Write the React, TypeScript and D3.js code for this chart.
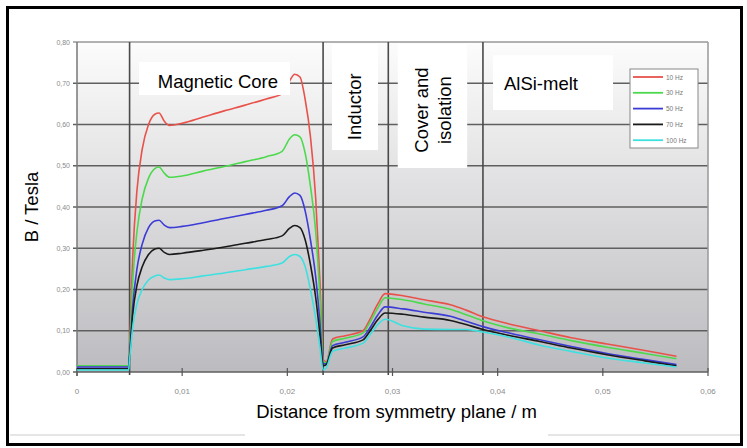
import React, { useEffect, useRef } from 'react';
import * as d3 from 'd3';

// distance from symmetry plane (m)
const xs = [0, 0.0049, 0.005, 0.0053, 0.0057, 0.0062, 0.0068, 0.0074, 0.0078, 0.0083, 0.0088, 0.01, 0.012, 0.014, 0.016, 0.018, 0.0195, 0.0202, 0.0207, 0.0212, 0.0217, 0.0222, 0.0227, 0.0231, 0.0234, 0.0237, 0.0243, 0.0255, 0.0272, 0.0278, 0.0286, 0.0293, 0.031, 0.033, 0.0355, 0.037, 0.0386, 0.041, 0.044, 0.047, 0.0504, 0.054, 0.057];

const hz10 = [0.015, 0.015, 0.06, 0.28, 0.44, 0.54, 0.6, 0.625, 0.628, 0.608, 0.598, 0.603, 0.618, 0.633, 0.647, 0.662, 0.675, 0.705, 0.722, 0.715, 0.66, 0.57, 0.42, 0.22, 0.03, 0.025, 0.08, 0.088, 0.1, 0.125, 0.165, 0.19, 0.185, 0.175, 0.163, 0.15, 0.134, 0.117, 0.1, 0.083, 0.068, 0.052, 0.038];
const hz30 = [0.015, 0.015, 0.05, 0.22, 0.34, 0.42, 0.47, 0.493, 0.497, 0.482, 0.472, 0.475, 0.487, 0.498, 0.51, 0.522, 0.535, 0.565, 0.575, 0.57, 0.53, 0.45, 0.34, 0.18, 0.025, 0.022, 0.074, 0.082, 0.095, 0.118, 0.155, 0.18, 0.175, 0.165, 0.152, 0.139, 0.124, 0.107, 0.092, 0.076, 0.06, 0.045, 0.032];
const hz50 = [0.012, 0.012, 0.04, 0.16, 0.25, 0.31, 0.35, 0.366, 0.368, 0.356, 0.35, 0.353, 0.362, 0.372, 0.382, 0.392, 0.403, 0.425, 0.434, 0.428, 0.39, 0.32, 0.23, 0.12, 0.02, 0.02, 0.064, 0.072, 0.085, 0.105, 0.138, 0.158, 0.153, 0.145, 0.135, 0.123, 0.11, 0.095, 0.078, 0.062, 0.045, 0.03, 0.018];
const hz70 = [0.008, 0.008, 0.035, 0.14, 0.21, 0.255, 0.285, 0.298, 0.3, 0.29, 0.285, 0.288, 0.295, 0.303, 0.312, 0.321, 0.33, 0.348, 0.355, 0.35, 0.32, 0.26, 0.18, 0.09, 0.015, 0.018, 0.058, 0.066, 0.078, 0.097, 0.127, 0.143, 0.14, 0.133, 0.125, 0.115, 0.103, 0.089, 0.074, 0.058, 0.042, 0.027, 0.015];
const hz100 = [0.005, 0.005, 0.03, 0.11, 0.165, 0.2, 0.223, 0.233, 0.235, 0.228, 0.224, 0.226, 0.233, 0.24, 0.248, 0.256, 0.264, 0.28, 0.285, 0.28, 0.255, 0.2, 0.13, 0.06, 0.005, 0.01, 0.05, 0.058, 0.07, 0.088, 0.115, 0.128, 0.112, 0.104, 0.103, 0.103, 0.097, 0.085, 0.065, 0.05, 0.034, 0.022, 0.012];

const seriesNames = ['10 Hz', '30 Hz', '50 Hz', '70 Hz', '100 Hz'];
const seriesColors = ['#e8524a', '#4cd94c', '#3b3bd6', '#1a1a1a', '#3ee0e0'];
const yTicks = [0, 0.1, 0.2, 0.3, 0.4, 0.5, 0.6, 0.7, 0.8];
const xTicks = [0, 0.01, 0.02, 0.03, 0.04, 0.05, 0.06];
const regionBounds = [0.005, 0.0234, 0.0296, 0.0386];

export default function App() {
  const svgRef = useRef<SVGSVGElement>(null);

  useEffect(() => {
    const W = 747;
    const H = 448;
    const margin = { top: 42, right: 39, bottom: 76, left: 77 };
    const svg = d3.select(svgRef.current).attr('width', W).attr('height', H);
    svg.selectAll('*').remove();

    const x = d3.scaleLinear().domain([0, 0.06]).range([margin.left, W - margin.right]);
    const y = d3.scaleLinear().domain([0, 0.8]).range([H - margin.bottom, margin.top]);
    const fmt = (v: number) => (v === 0 ? '0' : d3.format('.2f')(v).replace('.', ','));
    const font = 'Liberation Sans, Arial, sans-serif';

    svg.append('rect').attr('width', W).attr('height', H).attr('fill', '#fff');

    const grad = svg.append('defs').append('linearGradient')
      .attr('id', 'bg').attr('x1', 0).attr('x2', 0).attr('y1', 0).attr('y2', 1);
    grad.append('stop').attr('offset', '0%').attr('stop-color', '#fcfcfc');
    grad.append('stop').attr('offset', '100%').attr('stop-color', '#bcbcc0');

    svg.append('rect')
      .attr('x', x(0)).attr('y', y(0.8))
      .attr('width', x(0.06) - x(0)).attr('height', y(0) - y(0.8))
      .attr('fill', 'url(#bg)');

    // horizontal grid
    svg.append('g').selectAll('line').data(yTicks).join('line')
      .attr('x1', x(0) - 4).attr('x2', x(0.06))
      .attr('y1', (d) => y(d)).attr('y2', (d) => y(d))
      .attr('stroke', (d) => (d === 0.8 ? '#999' : '#5f5f5f'))
      .attr('stroke-width', 1.6);

    // plot frame sides
    svg.append('line').attr('x1', x(0)).attr('x2', x(0)).attr('y1', y(0.8)).attr('y2', y(0) + 4)
      .attr('stroke', '#777').attr('stroke-width', 1.5);
    svg.append('line').attr('x1', x(0.06)).attr('x2', x(0.06)).attr('y1', y(0.8)).attr('y2', y(0))
      .attr('stroke', '#999').attr('stroke-width', 1.5);

    // x tick marks
    svg.append('g').selectAll('line').data(xTicks).join('line')
      .attr('x1', (d) => x(d)).attr('x2', (d) => x(d))
      .attr('y1', y(0) - 4).attr('y2', y(0) + 4)
      .attr('stroke', '#555').attr('stroke-width', 1.2);

    // region boundaries
    svg.append('g').selectAll('line').data(regionBounds).join('line')
      .attr('x1', (d) => x(d)).attr('x2', (d) => x(d))
      .attr('y1', y(0.8)).attr('y2', y(0) + 3)
      .attr('stroke', '#4a4a4a').attr('stroke-width', 1.6);

    // tick labels
    svg.append('g').selectAll('text').data(yTicks).join('text')
      .attr('x', x(0) - 7).attr('y', (d) => y(d) + 2.5)
      .attr('text-anchor', 'end')
      .attr('font-family', font)
      .attr('font-size', 7).attr('fill', '#8a8a8a')
      .text((d) => d3.format('.2f')(d).replace('.', ','));

    svg.append('g').selectAll('text').data(xTicks).join('text')
      .attr('x', (d) => x(d)).attr('y', y(0) + 22)
      .attr('text-anchor', 'middle')
      .attr('font-family', font)
      .attr('font-size', 8).attr('fill', '#8a8a8a')
      .text((d) => fmt(d));

    // curves, 10 Hz first so 100 Hz ends on top
    const all = [hz10, hz30, hz50, hz70, hz100];
    const line = d3.line<number>()
      .x((_, i) => x(xs[i]))
      .y((d) => y(d))
      .curve(d3.curveMonotoneX);

    svg.append('g').selectAll('path').data(all).join('path')
      .attr('d', (d) => line(d))
      .attr('fill', 'none')
      .attr('stroke', (_, i) => seriesColors[i])
      .attr('stroke-width', 1.6);

    // region label boxes
    const box = (x0: number, x1: number, y0: number, y1: number) =>
      svg.append('rect')
        .attr('x', x(x0)).attr('y', y(y0))
        .attr('width', x(x1) - x(x0)).attr('height', y(y1) - y(y0))
        .attr('fill', '#fff');

    box(0.0059, 0.02025, 0.7515, 0.6715);
    svg.append('text').attr('x', x(0.0134)).attr('y', y(0.7) + 5)
      .attr('text-anchor', 'middle').attr('font-family', font).attr('font-size', 18.5)
      .text('Magnetic Core');

    box(0.02425, 0.02862, 0.795, 0.538);
    svg.append('text')
      .attr('transform', `translate(${x(0.02643) + 6},${y(0.643)}) rotate(-90)`)
      .attr('text-anchor', 'middle').attr('font-family', font).attr('font-size', 18.5)
      .text('Inductor');

    box(0.0305, 0.0371, 0.795, 0.4945);
    const cover = svg.append('text')
      .attr('transform', `translate(${x(0.0338)},${y(0.635)}) rotate(-90)`)
      .attr('text-anchor', 'middle').attr('font-family', font).attr('font-size', 18.5);
    cover.append('tspan').attr('x', 0).attr('dy', -4).text('Cover and');
    cover.append('tspan').attr('x', 0).attr('dy', 23).text('isolation');

    box(0.03956, 0.05097, 0.768, 0.635);
    svg.append('text').attr('x', x(0.0406)).attr('y', y(0.7) + 7)
      .attr('font-family', font).attr('font-size', 18.5)
      .text('AlSi-melt');

    // legend
    const lg = svg.append('g').attr('transform', 'translate(630,69)');
    lg.append('rect').attr('width', 68).attr('height', 79)
      .attr('fill', '#fff').attr('stroke', '#888').attr('stroke-width', 1);
    const items = lg.selectAll('g').data(seriesNames).join('g')
      .attr('transform', (_, i) => `translate(0,${8 + i * 15.8})`);
    items.append('line').attr('x1', 3).attr('x2', 33).attr('y1', 0).attr('y2', 0)
      .attr('stroke', (_, i) => seriesColors[i]).attr('stroke-width', 1.8);
    items.append('text').attr('x', 36).attr('y', 2.5)
      .attr('font-family', font).attr('font-size', 6.5).attr('fill', '#777')
      .text((d) => d);

    // axis titles
    svg.append('text')
      .attr('transform', `translate(${38},${y(0.4)}) rotate(-90)`)
      .attr('text-anchor', 'middle').attr('font-family', font).attr('font-size', 18.5)
      .text('B / Tesla');

    svg.append('line').attr('x1', 10).attr('x2', W - 7).attr('y1', 435).attr('y2', 435)
      .attr('stroke', '#ccc').attr('stroke-width', 1);
    svg.append('rect').attr('x', 245).attr('y', 398).attr('width', 303).attr('height', 42).attr('fill', '#fff');
    svg.append('text')
      .attr('x', (x(0) + x(0.06)) / 2 + 4).attr('y', 418)
      .attr('text-anchor', 'middle').attr('font-family', font).attr('font-size', 18.5)
      .text('Distance from symmetry plane / m');

    // outer frame
    svg.append('rect').attr('x', 7.5).attr('y', 7.5).attr('width', 734).attr('height', 437)
      .attr('fill', 'none').attr('stroke', '#000').attr('stroke-width', 3);
  }, []);

  return <svg ref={svgRef} style={{ position: 'absolute', left: 0, top: 0 }}></svg>;
}
